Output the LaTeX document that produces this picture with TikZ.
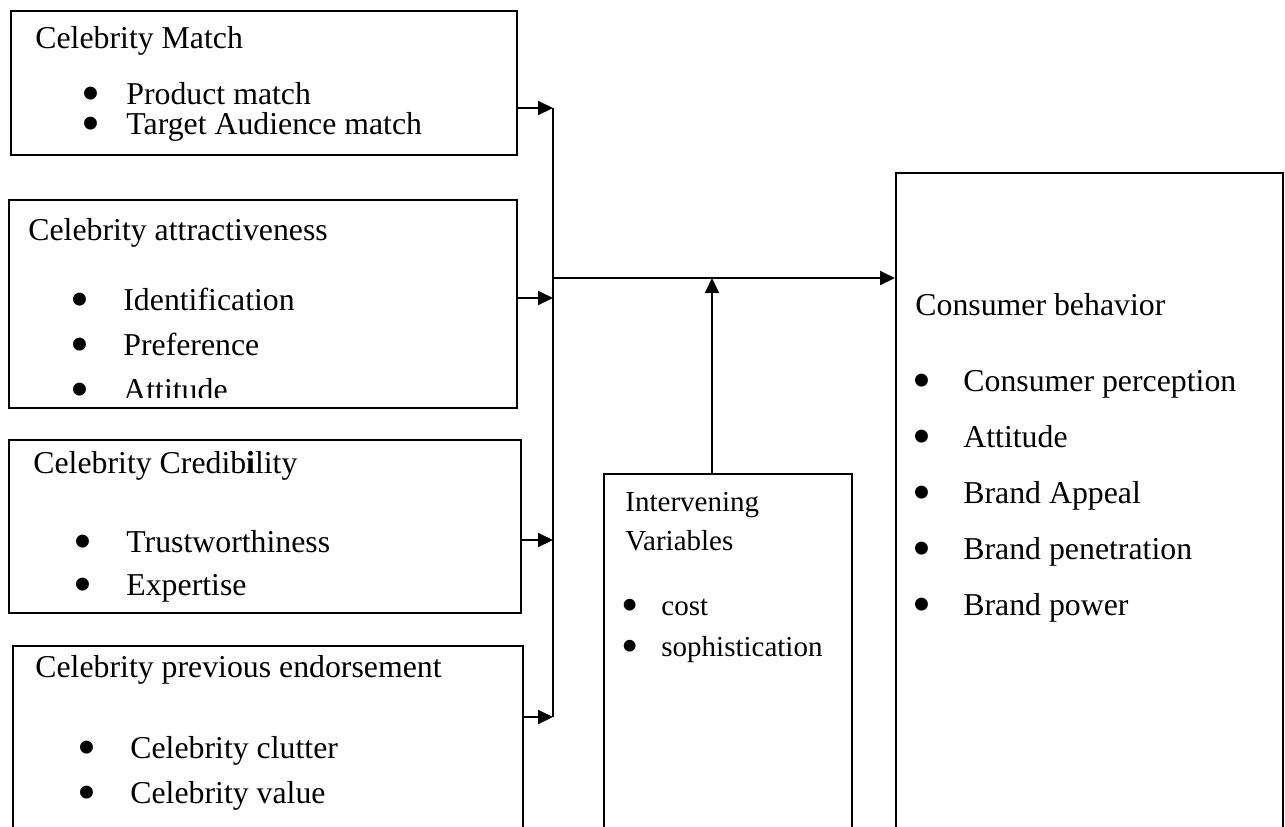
\documentclass[tikz,border=0pt]{standalone}
\usepackage{fontspec}
\setmainfont{Liberation Serif}
\usetikzlibrary{arrows.meta}

\newcommand{\bul}[1][17pt]{\llap{\smash{\raisebox{-0.24em}{\scalebox{1.7}{\textbullet}}}\hspace{#1}}}

\tikzset{
  box/.style={draw, line width=1pt, anchor=north west, inner sep=0pt},
  txt/.style={anchor=base west, inner sep=0pt, font=\fontsize{15.9}{19}\selectfont},
  small/.style={anchor=base west, inner sep=0pt, font=\fontsize{14.5}{17}\selectfont},
  link/.style={line width=1pt, -{Triangle[length=7.5pt,width=7pt]}},
}

\begin{document}
\begin{tikzpicture}[x=0.5pt,y=-0.5pt]
  \clip (0,0) rectangle (1285,826);

  \node[box, minimum width=253pt, minimum height=72pt] (match) at (10,10) {};
  \node[box, minimum width=254pt, minimum height=104pt] (attr) at (8,199) {};
  \node[box, minimum width=256pt, minimum height=86.5pt] (cred) at (8,439) {};
  \node[box, minimum width=255pt, minimum height=102.5pt] (prev) at (12,645) {};
  \node[box, minimum width=124pt, minimum height=188.5pt] (inter) at (603,473) {};
  \node[box, minimum width=193.5pt, minimum height=339pt] (cons) at (895,172) {};

  \node[txt] (matcht) at (35,48) {Celebrity Match};
  \node[txt] (match1) at (126,104) {\bul[13pt]Product match};
  \node[txt] (match2) at (126,134) {\bul[13pt]Target Audience match};

  \node[txt] (attrt) at (28,240) {Celebrity attractiveness};
  \node[txt] (attr1) at (123,310) {\bul Identification};
  \node[txt] (attr2) at (123,355) {\bul Preference};
  \begin{scope}
    \clip (8,199) rectangle (516,397);
    \node[txt] (attr3) at (123,400) {\bul Attitude};
  \end{scope}

  \node[txt] (credt) at (33,473) {Celebrity Credib\textbf{i}lity};
  \node[txt] (cred1) at (126,552) {\bul Trustworthiness};
  \node[txt] (cred2) at (126,595) {\bul Expertise};

  \node[txt] (prevt) at (35,677) {Celebrity previous endorsement};
  \node[txt] (prev1) at (130,758) {\bul Celebrity clutter};
  \node[txt] (prev2) at (130,803) {\bul Celebrity value};

  \node[small] (intert) at (625,511) {Intervening};
  \node[small] (intert2) at (625,550) {Variables};
  \node[small] (inter1) at (661,615) {\bul[11.5pt]cost};
  \node[small] (inter2) at (661,656) {\bul[11.5pt]sophistication};

  \node[txt] (const) at (915,315) {Consumer behavior};
  \foreach \t [count=\i] in {Consumer perception, Attitude, Brand Appeal, Brand penetration, Brand power}
    \node[txt] (cons\i) at (963,391+56*\i-56) {\bul[16pt]\t};

  \coordinate (j1) at (553,108);
  \coordinate (j2) at (553,298);
  \coordinate (j3) at (553,540);
  \coordinate (j4) at (553,717);
  \coordinate (mid) at (553,278);
  \coordinate (meet) at (712,278);

  \path[draw, line width=1pt] (j1) -- (j4);
  \foreach \b/\j in {match/j1, attr/j2, cred/j3, prev/j4}
    \path[draw, link] (\b.east |- \j) -- (\j);
  \path[draw, link] (mid) -- (cons.west |- mid);
  \path[draw, link] (meet |- inter.north) -- (meet);
\end{tikzpicture}
\end{document}
